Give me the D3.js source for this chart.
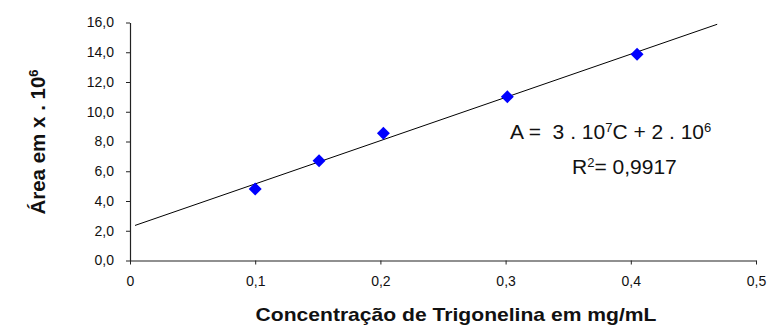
<!DOCTYPE html>
<html>
<head>
<meta charset="utf-8">
<script src="https://cdn.jsdelivr.net/npm/d3@7"></script>
<style>
  body { margin: 0; background: #fff; }
  svg { font-family: Arial, "Liberation Sans", sans-serif; }
</style>
</head>
<body>
<div class="chart"></div>
<script>
// data
const concentrations = [0.100, 0.151, 0.2024, 0.3014, 0.405];
const areas = [4.80, 6.71, 8.55, 11.01, 13.86];
const xTicks = [0, 0.1, 0.2, 0.3, 0.4, 0.5];
const yTicks = [0, 2, 4, 6, 8, 10, 12, 14, 16];
const trendRange = [0.004, 0.469];

const width = 768, height = 327;

const svg = d3.select('.chart').append('svg')
  .attr('width', width).attr('height', height);

const x = d3.scaleLinear().domain([0, 0.5]).range([130, 756]);
const y = d3.scaleLinear().domain([0, 16]).range([260.5, 22.5]);

const fmt = d => d3.format('.1f')(d).replace('.', ',');
const fmtX = d => d === 0 ? '0' : d3.format('.1f')(d).replace('.', ',');

// axes
const xAxis = svg.append('g').attr('transform', 'translate(0,' + y(0) + ')')
  .call(d3.axisBottom(x).tickValues(xTicks).tickFormat(fmtX).tickSizeInner(4).tickSizeOuter(0).tickPadding(12));
const yAxis = svg.append('g').attr('transform', 'translate(' + x(0) + ',0)')
  .call(d3.axisLeft(y).tickValues(yTicks).tickFormat(fmt).tickSizeInner(4).tickSizeOuter(0).tickPadding(12));

[xAxis, yAxis].forEach(a => {
  a.select('.domain').attr('stroke', '#222').attr('stroke-width', 1.2);
  a.selectAll('.tick line').attr('stroke', '#222');
  a.selectAll('.tick text').attr('font-size', 14).attr('fill', '#111')
    .attr('font-family', 'Arial, "Liberation Sans", sans-serif');
});

// linear trendline (least squares)
const mx = d3.mean(concentrations), my = d3.mean(areas);
const sxy = d3.sum(concentrations, (c, i) => (c - mx) * (areas[i] - my));
const sxx = d3.sum(concentrations, c => (c - mx) * (c - mx));
const slope = sxy / sxx, intercept = my - slope * mx;

const line = d3.line().x(d => x(d)).y(d => y(intercept + slope * d));
svg.append('path').datum(trendRange)
  .attr('d', line).attr('fill', 'none').attr('stroke', '#000').attr('stroke-width', 1);

// points
const diamond = d3.symbol().type(d3.symbolSquare).size(84);
svg.selectAll('.pt').data(concentrations).enter().append('path')
  .attr('class', 'pt')
  .attr('d', diamond)
  .attr('transform', (d, i) => 'translate(' + x(d) + ',' + y(areas[i]) + ') rotate(45)')
  .attr('fill', '#0000ff');

// equation
const eq = svg.append('text').attr('x', 510).attr('y', 138.5).attr('font-size', 21)
  .attr('fill', '#111').style('white-space', 'pre');
eq.append('tspan').text('A =  3 . 10');
eq.append('tspan').attr('font-size', 13).attr('dy', -7).text('7');
eq.append('tspan').attr('dy', 7).text('C + 2 . 10');
eq.append('tspan').attr('font-size', 13).attr('dy', -7).text('6');

const r2 = svg.append('text').attr('x', 572).attr('y', 174).attr('font-size', 21).attr('fill', '#111');
r2.append('tspan').text('R');
r2.append('tspan').attr('font-size', 13).attr('dy', -7).text('2');
r2.append('tspan').attr('dy', 7).text('= 0,9917');

// axis titles
svg.append('text').attr('x', 456).attr('y', 321).attr('text-anchor', 'middle')
  .attr('font-size', 19).attr('font-weight', 'bold').attr('fill', '#111')
  .attr('textLength', 401).attr('lengthAdjust', 'spacingAndGlyphs')
  .text('Concentração de Trigonelina em mg/mL');

const yt = svg.append('text').attr('transform', 'translate(45,142) rotate(-90)')
  .attr('text-anchor', 'middle').attr('font-size', 20.5).attr('font-weight', 'bold').attr('fill', '#111');
yt.append('tspan').text('Área em x . 10');
yt.append('tspan').attr('font-size', 13).attr('dy', -7).text('6');
</script>
</body>
</html>
